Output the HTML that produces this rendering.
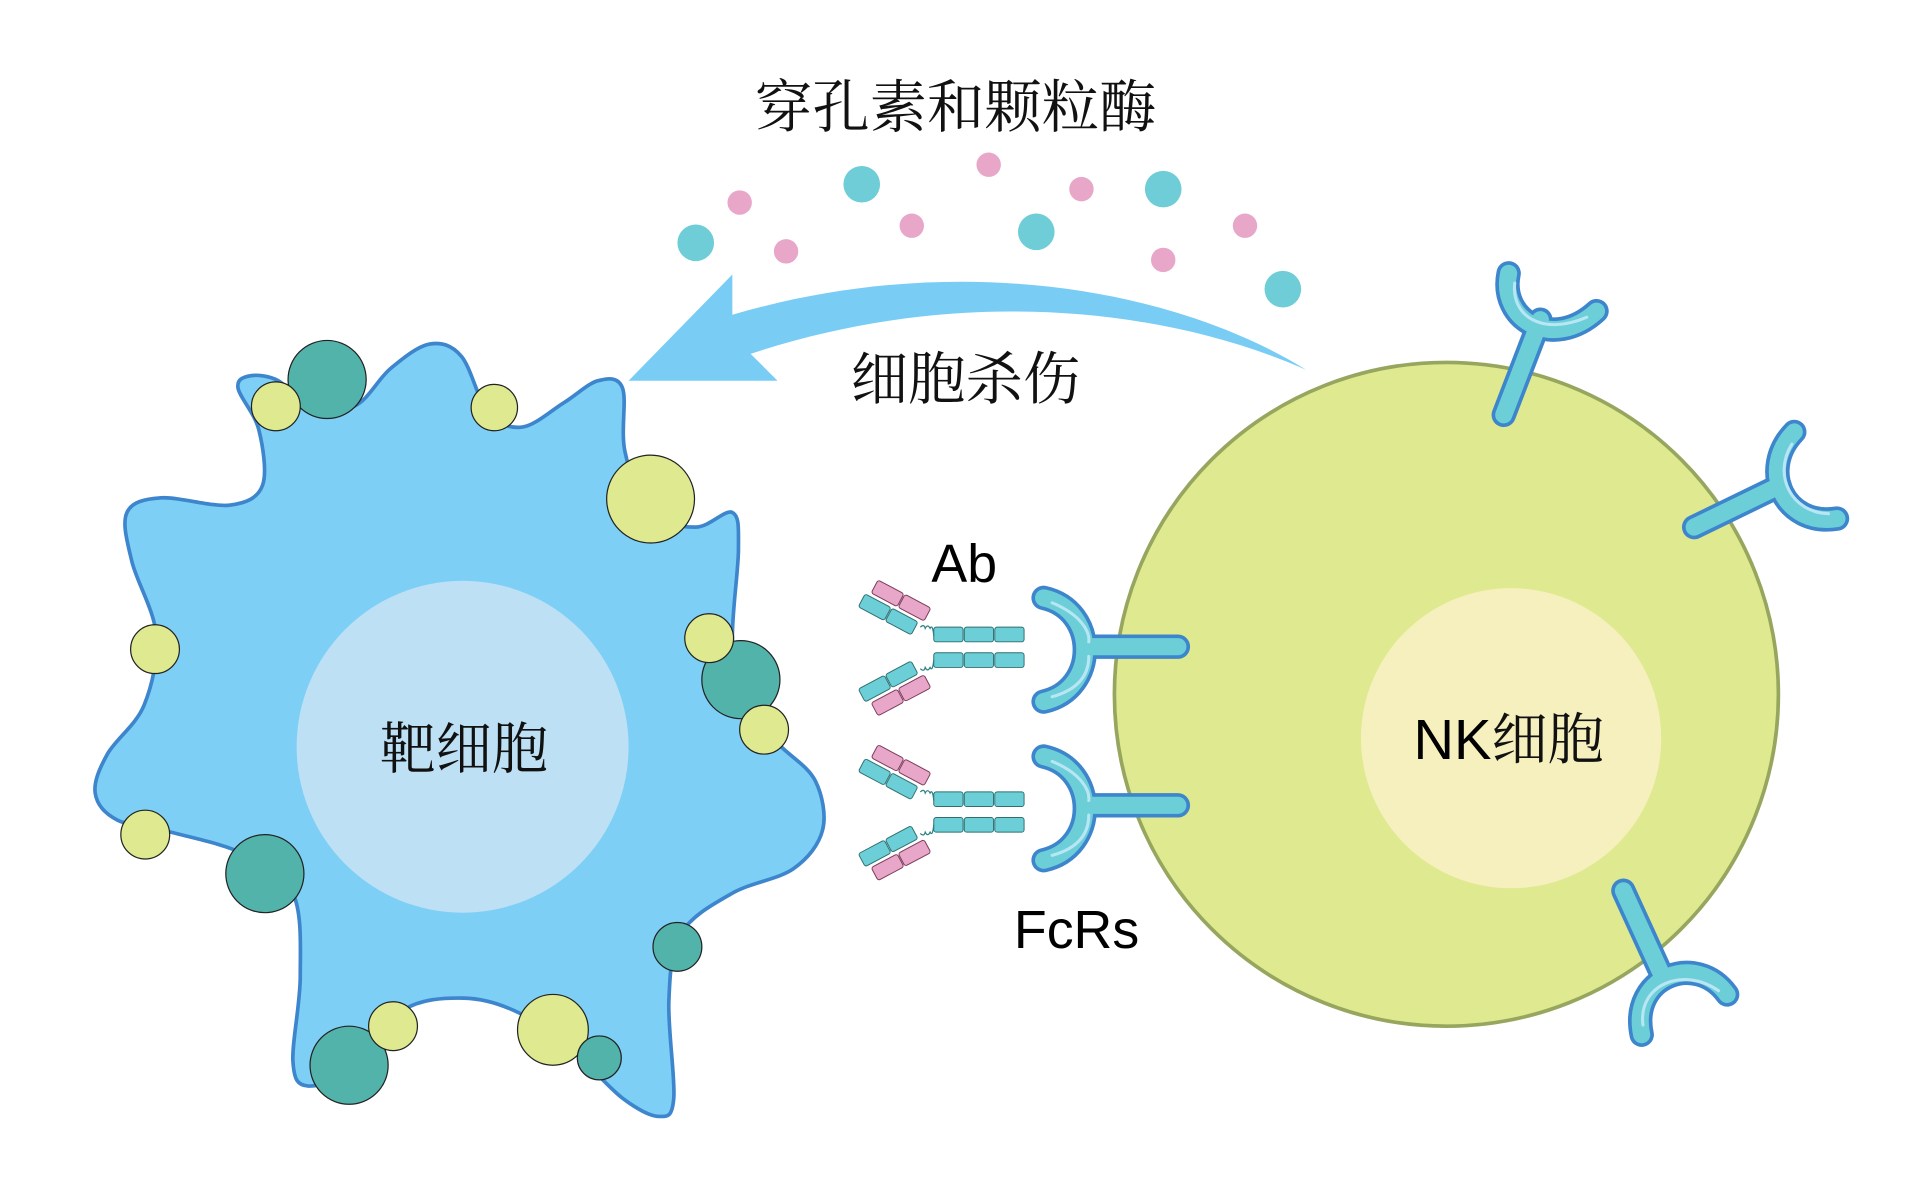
<!DOCTYPE html>
<html><head><meta charset="utf-8"><style>
html,body{margin:0;padding:0;background:#fff;width:1909px;height:1197px;overflow:hidden}
svg{display:block}
.cn{font-family:"Liberation Serif","Noto Serif CJK SC",serif;fill:#111}
.en{font-family:"Liberation Sans","Noto Sans CJK SC",sans-serif;fill:#000}
</style></head><body>
<svg width="1909" height="1197" viewBox="0 0 1564 981" preserveAspectRatio="none" xmlns="http://www.w3.org/2000/svg">
<defs>
<g id="arm">
<rect x="0" y="-6" width="24" height="12" rx="2" fill="#6ccfd8" stroke="#2f6f6f" stroke-width="0.8"/>
<rect x="25" y="-6" width="24" height="12" rx="2" fill="#6ccfd8" stroke="#2f6f6f" stroke-width="0.8"/>
</g>
<g id="parm">
<rect x="0" y="-6" width="24" height="12" rx="2" fill="#e8a6c8" stroke="#7a3a5a" stroke-width="0.8"/>
<rect x="25" y="-6" width="24" height="12" rx="2" fill="#e8a6c8" stroke="#7a3a5a" stroke-width="0.8"/>
</g>
<g id="stem">
<rect x="765" y="0" width="24" height="12" rx="2" fill="#6ccfd8" stroke="#2f6f6f" stroke-width="0.8"/>
<rect x="790" y="0" width="24" height="12" rx="2" fill="#6ccfd8" stroke="#2f6f6f" stroke-width="0.8"/>
<rect x="815" y="0" width="24" height="12" rx="2" fill="#6ccfd8" stroke="#2f6f6f" stroke-width="0.8"/>
</g>
<g id="ab">
<use href="#stem" y="514"/>
<use href="#stem" y="535"/>
<g transform="translate(706,492) rotate(28)"><use href="#arm"/><g transform="translate(4,-15)"><use href="#parm"/></g></g>
<g transform="translate(706,570) rotate(-28)"><use href="#arm"/><g transform="translate(4,15)"><use href="#parm"/></g></g>
<path d="M754,514 q3,-3 4,1 q2,-4 4,0 q2,-4 3,6" fill="none" stroke="#2f8080" stroke-width="1"/>
<path d="M754,548 q3,3 4,-1 q2,4 4,0 q2,4 3,-6" fill="none" stroke="#2f8080" stroke-width="1"/>
</g>
</defs>

<circle cx="1185" cy="569" r="272" fill="#dfe98f" stroke="#97a65e" stroke-width="3"/>
<circle cx="1238" cy="605" r="123" fill="#f5f0be"/>
<text x="1236" y="622" text-anchor="middle" class="en" font-size="46">NK<tspan class="cn" font-family="Liberation Serif,Noto Serif CJK SC,serif">细胞</tspan></text>

<path id="blob" fill="#7dcff5" stroke="#3d85cc" stroke-width="3" stroke-linejoin="round"/>
<circle cx="379" cy="612" r="136" fill="#bde0f5"/>
<text x="380" y="630" text-anchor="middle" class="cn" font-size="46">靶细胞</text>

<g stroke="#222" stroke-width="1">
<circle cx="268" cy="311" r="32" fill="#52b3ab"/>
<circle cx="226" cy="333" r="20" fill="#dfe98f"/>
<circle cx="405" cy="334" r="19" fill="#dfe98f"/>
<circle cx="533" cy="409" r="36" fill="#dfe98f"/>
<circle cx="127" cy="532" r="20" fill="#dfe98f"/>
<circle cx="607" cy="557" r="32" fill="#52b3ab"/>
<circle cx="581" cy="523" r="20" fill="#dfe98f"/>
<circle cx="626" cy="598" r="20" fill="#dfe98f"/>
<circle cx="119" cy="684" r="20" fill="#dfe98f"/>
<circle cx="217" cy="716" r="32" fill="#52b3ab"/>
<circle cx="555" cy="776" r="20" fill="#52b3ab"/>
<circle cx="286" cy="873" r="32" fill="#52b3ab"/>
<circle cx="322" cy="841" r="20" fill="#dfe98f"/>
<circle cx="453" cy="844" r="29" fill="#dfe98f"/>
<circle cx="491" cy="867" r="18" fill="#52b3ab"/>
</g>

<path d="M1070,303 C960,235 780,205 600,258 L600,225 L515,312 L637,312 L615,290 C780,235 950,250 1070,303 Z" fill="#79cdf4"/>

<g fill="#6ecdd6">
<circle cx="570" cy="199" r="15"/><circle cx="706" cy="151" r="15"/><circle cx="849" cy="190" r="15"/><circle cx="953" cy="155" r="15"/><circle cx="1051" cy="237" r="15"/>
</g>
<g fill="#e8a6c8">
<circle cx="606" cy="166" r="10"/><circle cx="644" cy="206" r="10"/><circle cx="747" cy="185" r="10"/><circle cx="810" cy="135" r="10"/><circle cx="886" cy="155" r="10"/><circle cx="953" cy="213" r="10"/><circle cx="1020" cy="185" r="10"/>
</g>

<text x="783" y="104" text-anchor="middle" class="cn" font-size="47">穿孔素和颗粒酶</text>
<text x="791" y="327" text-anchor="middle" class="cn" font-size="47">细胞杀伤</text>

<g fill="none" stroke-linecap="round">
<g stroke="#3d85cc" stroke-width="20">
<path d="M1232,340 L1262,262"/><path d="M1236,224 C1228,262 1272,288 1308,255"/>
<path d="M1388,432 L1458,398"/><path d="M1470,354 C1440,385 1462,432 1505,425"/>
<path d="M1330,730 L1362,800"/><path d="M1345,848 C1335,800 1390,780 1415,815"/>
<path d="M895,530 L965,530"/><path d="M855,490 C900,500 900,565 855,575"/>
<path d="M895,660 L965,660"/><path d="M855,620 C900,630 900,695 855,705"/>
</g>
<g stroke="#6ccfd8" stroke-width="14">
<path d="M1232,340 L1262,262"/><path d="M1236,224 C1228,262 1272,288 1308,255"/>
<path d="M1388,432 L1458,398"/><path d="M1470,354 C1440,385 1462,432 1505,425"/>
<path d="M1330,730 L1362,800"/><path d="M1345,848 C1335,800 1390,780 1415,815"/>
<path d="M895,530 L965,530"/><path d="M855,490 C900,500 900,565 855,575"/>
<path d="M895,660 L965,660"/><path d="M855,620 C900,630 900,695 855,705"/>
</g>
<g stroke="#b8e6f4" stroke-width="2.5">
<path d="M1241,232 C1238,258 1262,276 1300,260"/>
<path d="M1468,364 C1452,390 1468,420 1498,421"/>
<path d="M1346,840 C1342,806 1380,792 1408,812"/>
<path d="M862,494 C886,504 893,518 892,526"/><path d="M892,538 C892,556 880,566 862,571"/>
<path d="M862,624 C886,634 893,648 892,656"/><path d="M892,668 C892,686 880,696 862,701"/>
</g>
</g>

<use href="#ab"/>
<use href="#ab" transform="translate(0,135)"/>

<text x="790" y="477" text-anchor="middle" class="en" font-size="44">Ab</text>
<text x="882" y="777" text-anchor="middle" class="en" font-size="44">FcRs</text>
</svg>
<script>
var P=[[195,318],[212,352],[215,398],[188,414],[132,408],[104,420],[108,460],[128,520],[118,578],[88,618],[78,650],[96,672],[140,682],[200,700],[240,732],[246,800],[240,870],[252,890],[290,875],[330,828],[380,818],[425,830],[470,862],[510,900],[540,915],[552,900],[548,820],[558,765],[600,732],[650,712],[674,680],[668,640],[640,612],[608,582],[600,525],[605,450],[600,420],[570,432],[532,420],[512,370],[510,318],[490,312],[462,330],[428,350],[400,338],[378,292],[352,282],[320,302],[290,333],[250,332],[228,312],[205,308]];
var n=P.length,d="M"+P[0][0]+","+P[0][1];
for(var i=0;i<n;i++){var p0=P[(i-1+n)%n],p1=P[i],p2=P[(i+1)%n],p3=P[(i+2)%n];
d+=" C"+(p1[0]+(p2[0]-p0[0])/6)+","+(p1[1]+(p2[1]-p0[1])/6)+" "+(p2[0]-(p3[0]-p1[0])/6)+","+(p2[1]-(p3[1]-p1[1])/6)+" "+p2[0]+","+p2[1];}
document.getElementById("blob").setAttribute("d",d+"Z");
</script>
</body></html>
